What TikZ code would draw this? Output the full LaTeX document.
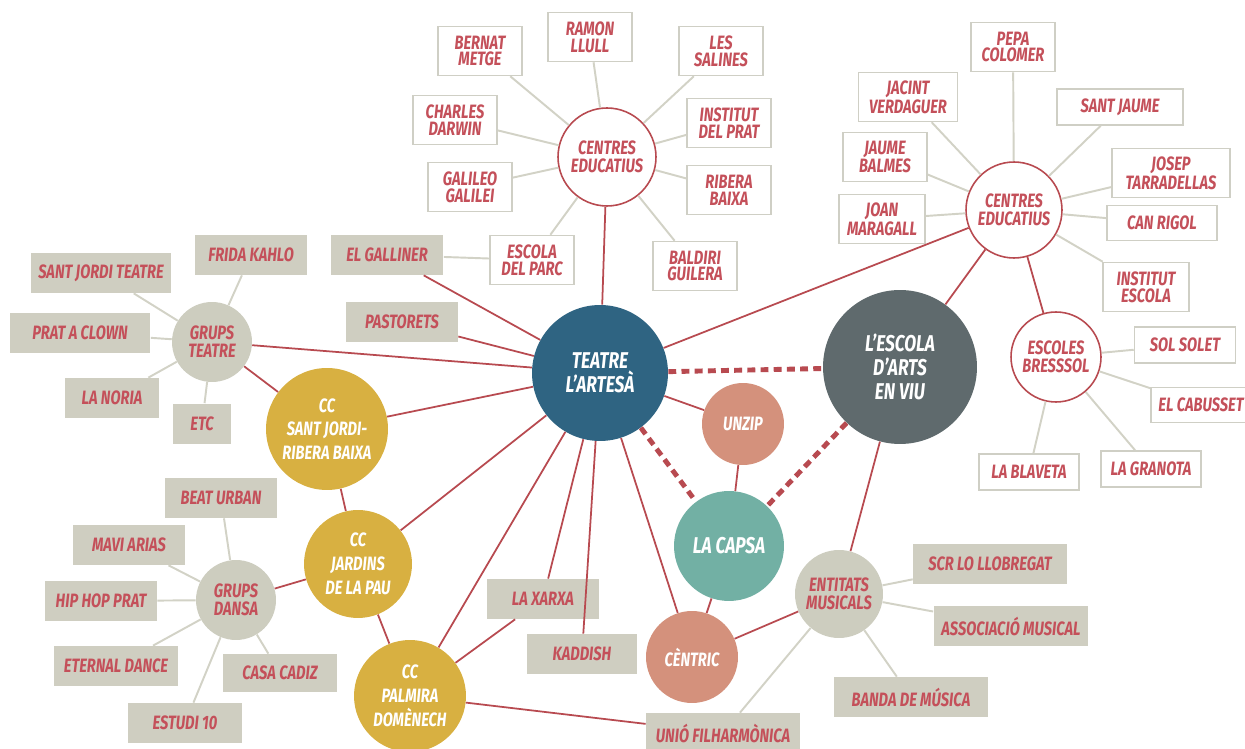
\documentclass[tikz,border=0pt]{standalone}
\usepackage{fontspec}
\setmainfont{Fira Sans}[FakeStretch=0.76]
\definecolor{teatreblue}{HTML}{2F6482}
\definecolor{escolagray}{HTML}{5F6A6D}
\definecolor{capsateal}{HTML}{72B0A4}
\definecolor{salmon}{HTML}{D4917C}
\definecolor{ccyellow}{HTML}{D8B041}
\definecolor{groupgray}{HTML}{CDCDBF}
\definecolor{boxgray}{HTML}{CFCEC1}
\definecolor{boxline}{HTML}{CFCFC5}
\definecolor{labelred}{HTML}{C4505A}
\definecolor{linered}{HTML}{B84A50}
\definecolor{thingray}{HTML}{D2D2C6}
\begin{document}
\begin{tikzpicture}[x=0.02cm, y=-0.02cm,
    hub/.style={circle, inner sep=0pt, text=white, align=center, font=\bfseries\itshape\fontsize{13}{13.5}\selectfont},
    ccnode/.style={circle, fill=ccyellow, inner sep=0pt, text=white, align=center, font=\bfseries\itshape\fontsize{11}{13.5}\selectfont},
    grup/.style={circle, fill=groupgray, inner sep=0pt, minimum size=1.6cm, text=labelred, align=center, font=\bfseries\itshape\fontsize{11}{10.2}\selectfont},
    ring/.style={circle, fill=white, draw=linered, line width=0.9pt, inner sep=0pt, text=labelred, align=center, font=\bfseries\itshape\fontsize{11}{10.2}\selectfont},
    wbox/.style={rectangle, fill=white, draw=boxline, line width=0.9pt, inner sep=0pt, minimum width=1.68cm, minimum height=0.98cm, text=labelred, align=center, font=\bfseries\itshape\fontsize{11}{9.6}\selectfont},
    gbox/.style={rectangle, fill=boxgray, inner sep=0pt, minimum width=2.24cm, minimum height=0.8cm, text=labelred, align=center, font=\bfseries\itshape\fontsize{11}{9.6}\selectfont},
    redline/.style={draw=linered, line width=1pt},
    grayline/.style={draw=thingray, line width=1.1pt},
    dotline/.style={draw=linered, line width=2.8pt, dash pattern=on 4.5pt off 3pt}]
\useasboundingbox (0,0) rectangle (1245,749);
\fill[white] (0,0) rectangle (1245,749);

% main circles
\node[hub, fill=teatreblue, minimum size=2.72cm] (teatre) at (600,373) {TEATRE\\L'ARTESÀ};
\node[hub, fill=escolagray, minimum size=3.08cm] (escola) at (900,367) {L'ESCOLA\\D'ARTS\\EN VIU};
\node[hub, fill=capsateal, minimum size=2.2cm] (capsa) at (729,546) {LA CAPSA};
\node[hub, fill=salmon, minimum size=1.64cm, font=\bfseries\itshape\fontsize{11}{12}\selectfont] (unzip) at (743,424) {UNZIP};
\node[hub, fill=salmon, minimum size=1.84cm, font=\bfseries\itshape\fontsize{11}{12}\selectfont] (centric) at (692,657) {CÈNTRIC};
\node[ccnode, minimum size=2.44cm] (ccsj) at (327,429) {CC\\SANT JORDI-\\RIBERA BAIXA};
\node[ccnode, minimum size=2.16cm] (ccjp) at (358,564) {CC\\JARDINS\\DE LA PAU};
\node[ccnode, minimum size=2.24cm] (ccpd) at (410,696) {CC\\PALMIRA\\DOMÈNECH};
\node[grup] (grupsteatre) at (212,342) {GRUPS\\TEATRE};
\node[grup] (grupsdansa) at (236,600) {GRUPS\\DANSA};
\node[grup, minimum size=1.76cm] (entitats) at (839,594) {ENTITATS\\MUSICALS};
\node[ring, minimum size=1.96cm] (centresA) at (607,157) {CENTRES\\EDUCATIUS};
\node[ring, minimum size=1.92cm] (centresB) at (1014,210) {CENTRES\\EDUCATIUS};
\node[ring, minimum size=1.8cm] (bressol) at (1056,357) {ESCOLES\\BRESSSOL};

% schools round the first centres
\node[wbox] (bernat) at (480,51) {BERNAT\\METGE};
\node[wbox] (ramon) at (590,37) {RAMON\\LLULL};
\node[wbox] (salines) at (721,51) {LES\\SALINES};
\node[wbox] (darwin) at (455,120) {CHARLES\\DARWIN};
\node[wbox] (prat) at (729,123) {INSTITUT\\DEL PRAT};
\node[wbox] (galileo) at (470,187) {GALILEO\\GALILEI};
\node[wbox] (ribera) at (729,190) {RIBERA\\BAIXA};
\node[wbox] (parc) at (532,260) {ESCOLA\\DEL PARC};
\node[wbox] (baldiri) at (695,266) {BALDIRI\\GUILERA};

% schools round the second centres
\node[wbox] (pepa) at (1013,47) {PEPA\\COLOMER};
\node[wbox, minimum width=1.98cm] (jacint) at (908,97) {JACINT\\VERDAGUER};
\node[wbox, minimum width=2.52cm, minimum height=0.72cm] (jaume) at (1120,107) {SANT JAUME};
\node[wbox] (balmes) at (885,157) {JAUME\\BALMES};
\node[wbox, minimum width=2.36cm] (josep) at (1171,173) {JOSEP\\TARRADELLAS};
\node[wbox, minimum width=1.72cm] (maragall) at (882,219) {JOAN\\MARAGALL};
\node[wbox, minimum width=2.2cm, minimum height=0.7cm] (rigol) at (1162,223) {CAN RIGOL};
\node[wbox, minimum width=1.72cm] (institutesc) at (1146,287) {INSTITUT\\ESCOLA};

% bressols
\node[wbox, minimum width=2.02cm, minimum height=0.72cm] (solet) at (1185,345) {SOL SOLET};
\node[wbox, minimum width=2cm, minimum height=0.7cm] (cabusset) at (1201,405) {EL CABUSSET};
\node[wbox, minimum width=2cm, minimum height=0.72cm] (blaveta) at (1029,472) {LA BLAVETA};
\node[wbox, minimum width=2cm, minimum height=0.72cm] (granota) at (1151,469) {LA GRANOTA};

% theatre and dance groups
\node[gbox, minimum width=2.26cm] (galliner) at (387,255) {EL GALLINER};
\node[gbox, minimum width=2.26cm] (frida) at (251,255) {FRIDA KAHLO};
\node[gbox, minimum width=2.82cm] (sjteatre) at (101,273) {SANT JORDI TEATRE};
\node[gbox, minimum width=2.82cm] (clown) at (80,333) {PRAT A CLOWN};
\node[gbox] (pastorets) at (402,322) {PASTORETS};
\node[gbox, minimum width=1.9cm] (noria) at (112,398) {LA NORIA};
\node[gbox, minimum width=1.18cm, minimum height=0.82cm] (etc) at (202,424) {ETC};
\node[gbox] (beat) at (221,498) {BEAT URBAN};
\node[gbox] (mavi) at (129,545) {MAVI ARIAS};
\node[gbox] (hiphop) at (101,601) {HIP HOP PRAT};
\node[gbox, minimum width=2.5cm] (eternal) at (116,666) {ETERNAL DANCE};
\node[gbox, minimum width=2.28cm, minimum height=0.76cm] (cadiz) at (280,673) {CASA CADIZ};
\node[gbox, minimum width=2.28cm] (estudi) at (185,723) {ESTUDI 10};
\node[gbox] (xarxa) at (543,599) {LA XARXA};
\node[gbox, minimum width=2.2cm] (kaddish) at (582,654) {KADDISH};

% music
\node[gbox, minimum width=3.08cm] (scr) at (990,564) {SCR LO LLOBREGAT};
\node[gbox, minimum width=3.1cm] (associacio) at (1011,626) {ASSOCIACIÓ MUSICAL};
\node[gbox, minimum width=3.1cm] (banda) at (911,697) {BANDA DE MÚSICA};
\node[gbox, minimum width=3.08cm] (unio) at (723,733) {UNIÓ FILHARMÒNICA};

% red links
\draw[redline] (teatre) -- (centresA);
\draw[redline] (teatre) -- (centresB);
\draw[redline] (teatre) -- (galliner);
\draw[redline] (teatre) -- (pastorets);
\draw[redline] (teatre) -- (grupsteatre);
\draw[redline] (teatre) -- (ccsj);
\draw[redline] (teatre) -- (ccjp);
\draw[redline] (teatre) -- (ccpd);
\draw[redline] (teatre) -- (xarxa);
\draw[redline] (teatre) -- (kaddish);
\draw[redline] (teatre) -- (centric);
\draw[redline] (teatre) -- (unzip);
\draw[redline] (unzip) -- (capsa);
\draw[redline] (capsa) -- (centric);
\draw[redline] (centric) -- (entitats);
\draw[redline] (entitats) -- (escola);
\draw[redline] (escola) -- (centresB);
\draw[redline] (centresB) -- (bressol);
\draw[redline] (grupsteatre) -- (ccsj);
\draw[redline] (ccsj) -- (ccjp);
\draw[redline] (ccjp) -- (grupsdansa);
\draw[redline] (ccjp) -- (ccpd);
\draw[redline] (ccpd) -- (xarxa);
\draw[redline] (ccpd) -- (unio);

% dotted triangle
\draw[dotline] (teatre) -- (escola);
\draw[dotline] (teatre) -- (capsa);
\draw[dotline] (escola) -- (capsa);

% grey links
\draw[grayline] (centresA) -- (bernat);
\draw[grayline] (centresA) -- (ramon);
\draw[grayline] (centresA) -- (salines);
\draw[grayline] (centresA) -- (darwin);
\draw[grayline] (centresA) -- (prat);
\draw[grayline] (centresA) -- (galileo);
\draw[grayline] (centresA) -- (ribera);
\draw[grayline] (centresA) -- (parc);
\draw[grayline] (centresA) -- (baldiri);
\draw[grayline] (galliner) -- (parc);
\draw[grayline] (centresB) -- (pepa);
\draw[grayline] (centresB) -- (jacint);
\draw[grayline] (centresB) -- (jaume);
\draw[grayline] (centresB) -- (balmes);
\draw[grayline] (centresB) -- (josep);
\draw[grayline] (centresB) -- (maragall);
\draw[grayline] (centresB) -- (rigol);
\draw[grayline] (centresB) -- (institutesc);
\draw[grayline] (bressol) -- (solet);
\draw[grayline] (bressol) -- (cabusset);
\draw[grayline] (bressol) -- (blaveta);
\draw[grayline] (bressol) -- (granota);
\draw[grayline] (grupsteatre) -- (sjteatre);
\draw[grayline] (grupsteatre) -- (frida);
\draw[grayline] (grupsteatre) -- (clown);
\draw[grayline] (grupsteatre) -- (noria);
\draw[grayline] (grupsteatre) -- (etc);
\draw[grayline] (grupsdansa) -- (beat);
\draw[grayline] (grupsdansa) -- (mavi);
\draw[grayline] (grupsdansa) -- (hiphop);
\draw[grayline] (grupsdansa) -- (eternal);
\draw[grayline] (grupsdansa) -- (cadiz);
\draw[grayline] (grupsdansa) -- (estudi);
\draw[grayline] (entitats) -- (scr);
\draw[grayline] (entitats) -- (associacio);
\draw[grayline] (entitats) -- (banda);
\draw[grayline] (entitats) -- (unio);
\end{tikzpicture}
\end{document}
